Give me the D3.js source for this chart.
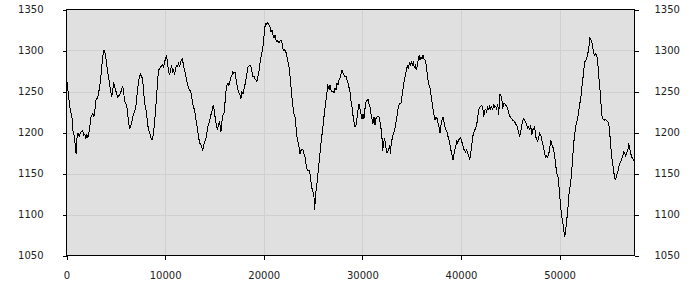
<!DOCTYPE html>
<html>
<head>
<meta charset="utf-8">
<script src="https://cdn.jsdelivr.net/npm/d3@7"></script>
<style>
  html, body { margin: 0; padding: 0; background: #fff; }
  svg { display: block; }
  .axis text { font-family: "DejaVu Sans", sans-serif; font-size: 10px; fill: #222; }
  .axis line { stroke: #000; }
</style>
</head>
<body>
<div id="chart"></div>
<script>
// =============================================================================
// DATA
// =============================================================================

const xTicks = [0, 10000, 20000, 30000, 40000, 50000];
const yTicks = [1050, 1100, 1150, 1200, 1250, 1300, 1350];
const xDomain = [0, 57600];
const yDomain = [1050, 1350];

// [sample, rating]
const ratingSeries = [
  [0,1255],[68,1261],[237,1241],[372,1229],[473,1223],[575,1217],[676,1199],[812,1195],[913,1180],[981,1174],
  [1082,1197],[1184,1199],[1285,1195],[1387,1199],[1522,1201],[1657,1202],[1759,1197],[1860,1198],[1962,1193],[2063,1197],
  [2164,1193],[2266,1199],[2367,1207],[2469,1219],[2570,1221],[2672,1223],[2773,1219],[2875,1227],[2976,1239],[3078,1241],
  [3179,1243],[3281,1250],[3382,1258],[3483,1268],[3585,1282],[3686,1292],[3754,1300],[3855,1300],[3957,1294],[4058,1284],
  [4160,1275],[4261,1268],[4363,1260],[4464,1252],[4566,1243],[4667,1248],[4769,1262],[4870,1257],[4972,1252],[5073,1248],
  [5174,1243],[5276,1244],[5377,1246],[5479,1248],[5580,1252],[5682,1257],[5783,1251],[5885,1239],[5986,1235],[6088,1234],
  [6189,1225],[6291,1213],[6392,1205],[6493,1207],[6595,1211],[6696,1218],[6798,1223],[6899,1225],[7001,1229],[7102,1239],
  [7204,1252],[7305,1262],[7407,1269],[7508,1271],[7610,1268],[7711,1266],[7812,1252],[7914,1237],[8015,1231],[8117,1223],
  [8218,1211],[8320,1203],[8421,1201],[8523,1195],[8624,1191],[8726,1191],[8827,1201],[8929,1211],[9030,1227],[9131,1243],
  [9233,1262],[9334,1276],[9436,1278],[9537,1280],[9639,1281],[9740,1283],[9842,1280],[9943,1286],[10045,1290],[10146,1294],
  [10247,1284],[10349,1274],[10450,1270],[10552,1276],[10653,1282],[10755,1274],[10856,1276],[10958,1270],[11059,1278],[11161,1282],
  [11262,1281],[11364,1284],[11465,1280],[11566,1286],[11668,1288],[11769,1290],[11871,1280],[11972,1276],[12074,1270],[12175,1264],
  [12277,1258],[12378,1254],[12480,1252],[12581,1250],[12683,1246],[12784,1235],[12885,1231],[12987,1227],[13088,1219],[13190,1211],
  [13291,1203],[13393,1195],[13494,1187],[13596,1187],[13697,1183],[13799,1178],[13900,1183],[14001,1189],[14103,1191],[14204,1197],
  [14306,1205],[14407,1211],[14509,1213],[14610,1221],[14712,1223],[14813,1231],[14915,1233],[15016,1223],[15118,1215],[15219,1207],
  [15320,1203],[15422,1211],[15523,1213],[15658,1201],[15760,1213],[15861,1221],[15963,1223],[16064,1235],[16166,1250],[16267,1258],
  [16369,1260],[16470,1257],[16572,1262],[16673,1267],[16775,1270],[16876,1274],[16977,1272],[17079,1274],[17180,1266],[17282,1258],
  [17383,1252],[17485,1248],[17586,1246],[17688,1241],[17789,1250],[17891,1247],[17992,1252],[18094,1258],[18195,1264],[18296,1272],
  [18398,1280],[18499,1281],[18601,1282],[18702,1280],[18804,1274],[18905,1268],[19007,1269],[19108,1265],[19210,1264],[19311,1262],
  [19413,1268],[19514,1274],[19615,1284],[19717,1292],[19818,1298],[19920,1304],[20021,1317],[20123,1329],[20224,1333],[20326,1332],
  [20427,1334],[20529,1331],[20630,1329],[20731,1323],[20833,1325],[20934,1319],[21036,1315],[21137,1319],[21239,1313],[21340,1311],
  [21442,1312],[21543,1309],[21645,1311],[21746,1313],[21848,1309],[21949,1302],[22050,1300],[22152,1301],[22253,1298],[22355,1292],
  [22456,1286],[22558,1280],[22659,1270],[22761,1256],[22862,1243],[22964,1231],[23065,1223],[23167,1219],[23268,1207],[23369,1195],
  [23471,1189],[23572,1183],[23674,1174],[23775,1178],[23877,1180],[23978,1179],[24080,1174],[24181,1170],[24283,1162],[24384,1156],
  [24485,1153],[24587,1154],[24688,1150],[24790,1140],[24891,1132],[24993,1128],[25094,1122],[25162,1106],[25229,1117],[25297,1128],
  [25399,1138],[25500,1150],[25602,1162],[25703,1174],[25804,1187],[25906,1197],[26007,1207],[26109,1219],[26210,1229],[26312,1239],
  [26413,1248],[26447,1258],[26549,1256],[26650,1252],[26718,1258],[26819,1252],[26921,1250],[27022,1250],[27123,1248],[27225,1254],
  [27326,1252],[27428,1260],[27529,1258],[27631,1264],[27732,1266],[27834,1271],[27935,1276],[28037,1273],[28138,1270],[28239,1268],
  [28341,1269],[28442,1264],[28544,1260],[28645,1255],[28747,1250],[28848,1239],[28950,1231],[29051,1221],[29153,1213],[29254,1207],
  [29355,1209],[29457,1217],[29558,1227],[29660,1235],[29761,1229],[29863,1223],[29964,1216],[30066,1223],[30167,1217],[30269,1229],
  [30370,1237],[30471,1239],[30573,1241],[30674,1235],[30776,1231],[30877,1223],[30979,1217],[31080,1211],[31182,1219],[31283,1209],
  [31385,1217],[31486,1219],[31587,1219],[31689,1219],[31790,1213],[31892,1205],[31993,1193],[32061,1178],[32162,1187],[32264,1193],
  [32365,1183],[32467,1176],[32568,1176],[32670,1180],[32771,1183],[32873,1174],[32940,1191],[33042,1191],[33143,1199],[33245,1201],
  [33346,1207],[33448,1215],[33549,1223],[33651,1231],[33752,1235],[33854,1235],[33955,1237],[34056,1248],[34158,1256],[34259,1264],
  [34361,1270],[34462,1276],[34564,1282],[34665,1278],[34767,1285],[34868,1282],[34970,1286],[35071,1282],[35172,1285],[35274,1280],
  [35375,1282],[35477,1276],[35578,1282],[35680,1290],[35781,1294],[35849,1289],[35950,1292],[36052,1290],[36153,1294],[36255,1290],
  [36356,1288],[36458,1284],[36559,1274],[36661,1264],[36762,1258],[36864,1254],[36965,1246],[37067,1237],[37168,1229],[37269,1221],
  [37371,1215],[37472,1219],[37574,1217],[37675,1211],[37777,1207],[37878,1200],[37980,1209],[38081,1215],[38183,1219],[38284,1213],
  [38386,1207],[38487,1203],[38588,1201],[38690,1195],[38791,1191],[38893,1185],[38994,1178],[39096,1172],[39197,1167],[39299,1174],
  [39400,1180],[39502,1185],[39569,1191],[39671,1187],[39772,1191],[39874,1193],[39975,1194],[40077,1189],[40178,1185],[40279,1180],
  [40381,1178],[40482,1176],[40584,1179],[40685,1174],[40787,1172],[40888,1166],[40990,1174],[41091,1183],[41193,1195],[41294,1199],
  [41395,1203],[41497,1205],[41598,1209],[41700,1219],[41801,1227],[41903,1231],[42004,1232],[42106,1233],[42207,1231],[42309,1219],
  [42410,1227],[42511,1228],[42613,1225],[42714,1231],[42816,1228],[42917,1232],[43019,1229],[43120,1231],[43222,1227],[43323,1235],
  [43425,1231],[43526,1232],[43627,1229],[43729,1235],[43830,1221],[43932,1246],[44033,1246],[44135,1242],[44236,1229],[44338,1235],
  [44439,1235],[44541,1233],[44642,1232],[44743,1229],[44845,1223],[44946,1220],[45048,1218],[45149,1217],[45251,1215],[45352,1214],
  [45454,1213],[45555,1210],[45657,1209],[45758,1205],[45859,1199],[45961,1195],[46062,1201],[46164,1209],[46265,1214],[46367,1217],
  [46468,1215],[46570,1213],[46671,1209],[46773,1205],[46874,1207],[46975,1203],[47077,1209],[47178,1197],[47280,1203],[47381,1205],
  [47483,1207],[47584,1195],[47686,1191],[47787,1189],[47889,1195],[47990,1199],[48091,1197],[48193,1191],[48294,1187],[48396,1180],
  [48497,1174],[48599,1170],[48700,1172],[48802,1170],[48903,1174],[49005,1180],[49106,1191],[49207,1185],[49309,1183],[49410,1178],
  [49512,1170],[49613,1160],[49715,1150],[49816,1148],[49918,1138],[50019,1122],[50121,1109],[50222,1097],[50323,1091],[50425,1081],
  [50526,1073],[50628,1081],[50729,1093],[50831,1105],[50932,1122],[51034,1132],[51135,1140],[51237,1154],[51338,1170],[51439,1187],
  [51541,1199],[51642,1207],[51744,1213],[51845,1217],[51947,1227],[52048,1235],[52150,1241],[52251,1254],[52353,1264],[52454,1276],
  [52555,1286],[52657,1288],[52758,1290],[52860,1296],[52961,1302],[53063,1315],[53164,1313],[53266,1311],[53367,1304],[53469,1296],
  [53570,1294],[53671,1296],[53773,1294],[53874,1286],[53976,1268],[54077,1256],[54179,1239],[54280,1221],[54382,1217],[54483,1216],
  [54585,1215],[54686,1216],[54787,1214],[54889,1213],[54990,1211],[55092,1199],[55193,1183],[55295,1170],[55396,1162],[55498,1152],
  [55599,1144],[55701,1143],[55802,1148],[55903,1152],[56005,1158],[56106,1162],[56208,1164],[56309,1168],[56411,1172],[56512,1176],
  [56614,1174],[56715,1171],[56817,1176],[56918,1178],[57019,1187],[57121,1180],[57222,1174],[57324,1170],[57425,1168],[57527,1166],
  [57600,1166]
];

// =============================================================================
// LAYOUT
// =============================================================================

const width = 700;
const height = 300;
const plot = { left: 66.5, right: 634.5, top: 9.5, bottom: 255.5 };

const svg = d3.select('#chart')
  .append('svg')
  .attr('width', width)
  .attr('height', height);

const x = d3.scaleLinear().domain(xDomain).range([plot.left, plot.right]);
const y = d3.scaleLinear().domain(yDomain).range([plot.bottom, plot.top]);

// plot background
svg.append('rect')
  .attr('x', plot.left)
  .attr('y', plot.top)
  .attr('width', plot.right - plot.left)
  .attr('height', plot.bottom - plot.top)
  .attr('fill', '#e0e0e0');

// grid
const grid = svg.append('g').attr('shape-rendering', 'crispEdges');
grid.selectAll('line.vgrid')
  .data(xTicks.filter(d => d > xDomain[0]))
  .join('line')
  .attr('class', 'vgrid')
  .attr('x1', d => Math.round(x(d)) + 0.5)
  .attr('x2', d => Math.round(x(d)) + 0.5)
  .attr('y1', plot.top)
  .attr('y2', plot.bottom)
  .attr('stroke', '#d0d0d0');
grid.selectAll('line.hgrid')
  .data(yTicks.filter(d => d > yDomain[0] && d < yDomain[1]))
  .join('line')
  .attr('class', 'hgrid')
  .attr('x1', plot.left)
  .attr('x2', plot.right)
  .attr('y1', d => Math.round(y(d)) + 0.5)
  .attr('y2', d => Math.round(y(d)) + 0.5)
  .attr('stroke', '#d0d0d0');

// rating line (aliased, like the original bitmap plot)
const line = d3.line()
  .x(d => x(d[0]))
  .y(d => y(d[1]));

svg.append('path')
  .datum(ratingSeries)
  .attr('d', line)
  .attr('fill', 'none')
  .attr('stroke', '#000')
  .attr('stroke-width', 1)
  .attr('shape-rendering', 'crispEdges');

// frame
svg.append('rect')
  .attr('x', plot.left)
  .attr('y', plot.top)
  .attr('width', plot.right - plot.left)
  .attr('height', plot.bottom - plot.top)
  .attr('fill', 'none')
  .attr('stroke', '#000')
  .attr('shape-rendering', 'crispEdges');

// =============================================================================
// AXES
// =============================================================================

const leftAxis = svg.append('g')
  .attr('class', 'axis')
  .attr('transform', `translate(${plot.left},0)`)
  .call(d3.axisLeft(y).tickValues(yTicks).tickSize(4).tickPadding(19).tickFormat(d3.format('d')));

const rightAxis = svg.append('g')
  .attr('class', 'axis')
  .attr('transform', `translate(${plot.right},0)`)
  .call(d3.axisRight(y).tickValues(yTicks).tickSize(4).tickPadding(16).tickFormat(d3.format('d')));

const bottomAxis = svg.append('g')
  .attr('class', 'axis')
  .attr('transform', `translate(0,${plot.bottom})`)
  .call(d3.axisBottom(x).tickValues(xTicks).tickSize(4).tickPadding(12).tickFormat(d3.format('d')));

[leftAxis, rightAxis, bottomAxis].forEach(g => {
  g.select('.domain').remove();
  g.selectAll('line').attr('shape-rendering', 'crispEdges');
});
</script>
</body>
</html>
